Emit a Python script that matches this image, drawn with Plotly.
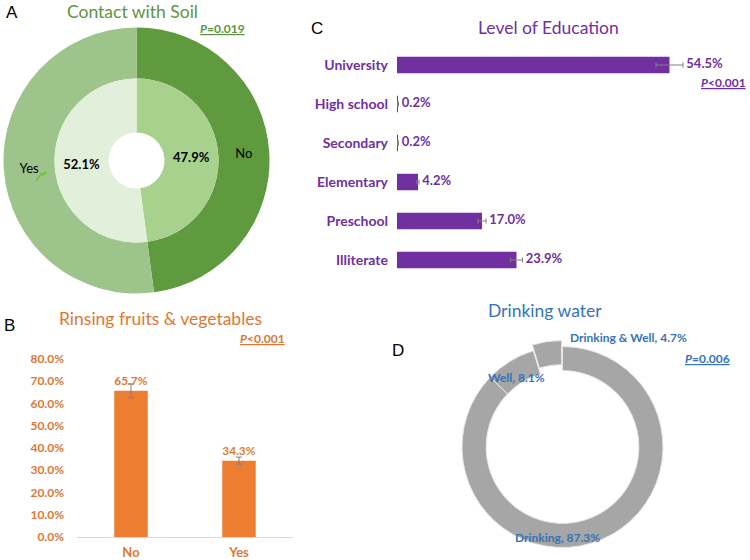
import plotly.graph_objects as go

# ---------------- data ----------------
soil_labels = ["No", "Yes"]
soil_values = [47.9, 52.1]
soil_p = "=0.019"

rinse_cats = ["No", "Yes"]
rinse_values = [65.7, 34.3]
rinse_err = [3.1, 1.6]
rinse_ticks = [0, 10, 20, 30, 40, 50, 60, 70, 80]
rinse_p = "<0.001"

edu_cats = ["University", "High school", "Secondary", "Elementary", "Preschool", "Illiterate"]
edu_values = [54.5, 0.2, 0.2, 4.2, 17.0, 23.9]
edu_err = [2.7, 0.1, 0.1, 0.2, 0.8, 1.2]
edu_p = "<0.001"

water_labels = ["Drinking", "Well", "Drinking & Well"]
water_values = [87.3, 8.1, 4.7]
water_p = "=0.006"

# ---------------- helpers ----------------
W, H = 750, 560
def X(p):
    return p / W
def Y(p):
    return 1 - p / H

FONT = "Lato"
GREEN_T = "#5E9441"
ORANGE = "#ED7D31"
ORANGE_T = "#DC7834"
PURPLE = "#7030A0"
BLUE_T = "#3574B8"
GRAY = "#A6A6A6"
ERR = "#808080"

fig = go.Figure()

# ---------- Panel A : Contact with soil (two rings) ----------
fig.add_trace(go.Pie(
    labels=soil_labels, values=soil_values, sort=False, direction="clockwise", rotation=0,
    hole=82 / 133,
    domain=dict(x=[X(3.5), X(269.5)], y=[Y(293.5), Y(27.5)]),
    marker=dict(colors=["#5F9A3E", "#9DC48A"], line=dict(width=0)),
    textinfo="label", textposition="inside", insidetextorientation="horizontal",
    textfont=dict(family=FONT, size=13, color="black"),
    showlegend=False, hoverinfo="skip",
))
fig.add_trace(go.Pie(
    labels=soil_labels, values=soil_values, sort=False, direction="clockwise", rotation=0,
    hole=28 / 82,
    domain=dict(x=[X(54.5), X(218.5)], y=[Y(242.5), Y(78.5)]),
    marker=dict(colors=["#A9D18E", "#E2EFDA"], line=dict(width=0)),
    texttemplate="<b>%{value:.1f}%</b>", textposition="inside", insidetextorientation="horizontal",
    textfont=dict(family=FONT, size=13, color="black"),
    showlegend=False, hoverinfo="skip",
))

# ---------- Panel B : Rinsing fruits & vegetables ----------
fig.add_trace(go.Bar(
    x=rinse_cats, y=rinse_values, xaxis="x", yaxis="y",
    marker=dict(color=ORANGE, line=dict(width=0)), width=0.31,
    error_y=dict(type="data", array=rinse_err, color=ERR, thickness=1, width=3),
    text=[f"<b>{v:.1f}%</b>" for v in rinse_values], textposition="outside",
    textfont=dict(family=FONT, size=13, color=ORANGE_T), cliponaxis=False,
    showlegend=False, hoverinfo="skip",
))

# ---------- Panel C : Level of education ----------
fig.add_trace(go.Bar(
    x=edu_values, y=edu_cats, orientation="h", xaxis="x2", yaxis="y2",
    marker=dict(color=PURPLE, line=dict(width=0)), width=0.42,
    error_x=dict(type="data", array=edu_err, color=ERR, thickness=1, width=2.5),
    showlegend=False, hoverinfo="skip",
))
fig.add_trace(go.Scatter(
    x=[v + e for v, e in zip(edu_values, edu_err)], y=edu_cats, xaxis="x2", yaxis="y2",
    mode="text", text=[f"&nbsp;<b>{v:.1f}%</b>" for v in edu_values], textposition="middle right",
    textfont=dict(family=FONT, size=13, color=PURPLE), cliponaxis=False,
    showlegend=False, hoverinfo="skip",
))

# ---------- Panel D : Drinking water ----------
pull_d = 0.06
r_d = 100.5 * (1 + pull_d)
cx_d, cy_d = 562.5, 447
fig.add_trace(go.Pie(
    labels=water_labels, values=water_values, sort=False, direction="clockwise", rotation=0,
    hole=0.76, pull=[0, 0, pull_d],
    domain=dict(x=[X(cx_d - r_d), X(cx_d + r_d)], y=[Y(cy_d + r_d), Y(cy_d - r_d)]),
    marker=dict(colors=[GRAY] * 3, line=dict(color="#E8E8E8", width=1)),
    textinfo="none", showlegend=False, hoverinfo="skip",
))

# ---------------- annotations ----------------
ann = []
def add(text, x, y, size, color, xanchor="center", family=FONT):
    ann.append(dict(text=text, x=X(x), y=Y(y), xref="paper", yref="paper",
                    xanchor=xanchor, yanchor="middle", showarrow=False,
                    font=dict(family=family, size=size, color=color)))

# panel letters
add("A", 12, 12, 17, "black", family="Liberation Sans")
add("B", 9, 325, 17, "black", family="Liberation Sans")
add("C", 317, 28, 17, "black", family="Liberation Sans")
add("D", 398, 350, 17, "black", family="Liberation Sans")

# titles
add("Contact with Soil", 132, 11, 17.5, GREEN_T)
add("Rinsing fruits &amp; vegetables", 160, 318, 17.5, ORANGE_T)
add("Level of Education", 548, 27, 17.5, PURPLE)
add("Drinking water", 545, 310, 17.5, BLUE_T)

# p-values
add(f"<b><u><i>P</i>{soil_p}</u></b>", 222, 28, 12, GREEN_T)
add(f"<b><u><i>P</i>{rinse_p}</u></b>", 287, 338, 12, ORANGE_T, xanchor="right")
add(f"<b><u><i>P</i>{edu_p}</u></b>", 748, 82, 12, PURPLE, xanchor="right")
add(f"<b><u><i>P</i>{water_p}</u></b>", 732, 358, 12, BLUE_T, xanchor="right")

# drinking water labels
water_pos = [(557, 537), (516, 377), (628, 337)]
for lab, val, (px, py) in zip(water_labels, water_values, water_pos):
    add(f"<b>{lab.replace('&', '&amp;')}, {val:.1f}%</b>", px, py, 12, BLUE_T)

# small sprout next to "Yes"
shapes = [
    dict(type="line", xref="paper", yref="paper", x0=X(36), y0=Y(181), x1=X(42), y1=Y(173),
         line=dict(color="#6DBE45", width=1.5)),
    dict(type="path", xref="paper", yref="paper",
         path=f"M {X(41)},{Y(175)} Q {X(44)},{Y(171)} {X(47)},{Y(172)} Q {X(45)},{Y(176)} {X(41)},{Y(175)} Z",
         fillcolor="#6DBE45", line=dict(color="#6DBE45", width=0.5)),
]

fig.update_layout(
    width=W, height=H,
    margin=dict(l=0, r=0, t=0, b=0, autoexpand=False),
    paper_bgcolor="white", plot_bgcolor="white",
    font=dict(family=FONT),
    annotations=ann, shapes=shapes,
    xaxis=dict(domain=[X(77), X(293)], anchor="y", showline=True, linecolor="#D9D9D9", linewidth=1,
               showgrid=False, zeroline=False, ticks="", fixedrange=True, automargin=False,
               tickfont=dict(family=FONT, size=13, color=ORANGE_T), ticklabelstandoff=3,
               tickvals=rinse_cats, ticktext=[f"<b>{c}</b>" for c in rinse_cats]),
    yaxis=dict(domain=[Y(537), Y(359)], anchor="x", range=[0, 80], tickvals=rinse_ticks,
               ticktext=[f"<b>{t:.1f}%</b>" for t in rinse_ticks], automargin=False,
               showgrid=False, zeroline=False, showline=False, ticks="",
               tickfont=dict(family=FONT, size=12, color=ORANGE_T), ticklabelstandoff=12),
    xaxis2=dict(domain=[X(397), X(747)], anchor="y2", range=[0, 70], visible=False, automargin=False),
    yaxis2=dict(domain=[Y(279.5), Y(45.5)], anchor="x2", autorange="reversed", automargin=False,
                categoryorder="array", categoryarray=edu_cats,
                tickvals=edu_cats, ticktext=[f"<b>{c}</b>" for c in edu_cats],
                showgrid=False, zeroline=False, showline=False, ticks="",
                tickfont=dict(family=FONT, size=14, color=PURPLE), ticklabelstandoff=8),
)

fig.write_html("out.html", config={"displayModeBar": False},
               post_script="document.body.style.margin='0';document.body.style.overflow='hidden';")
